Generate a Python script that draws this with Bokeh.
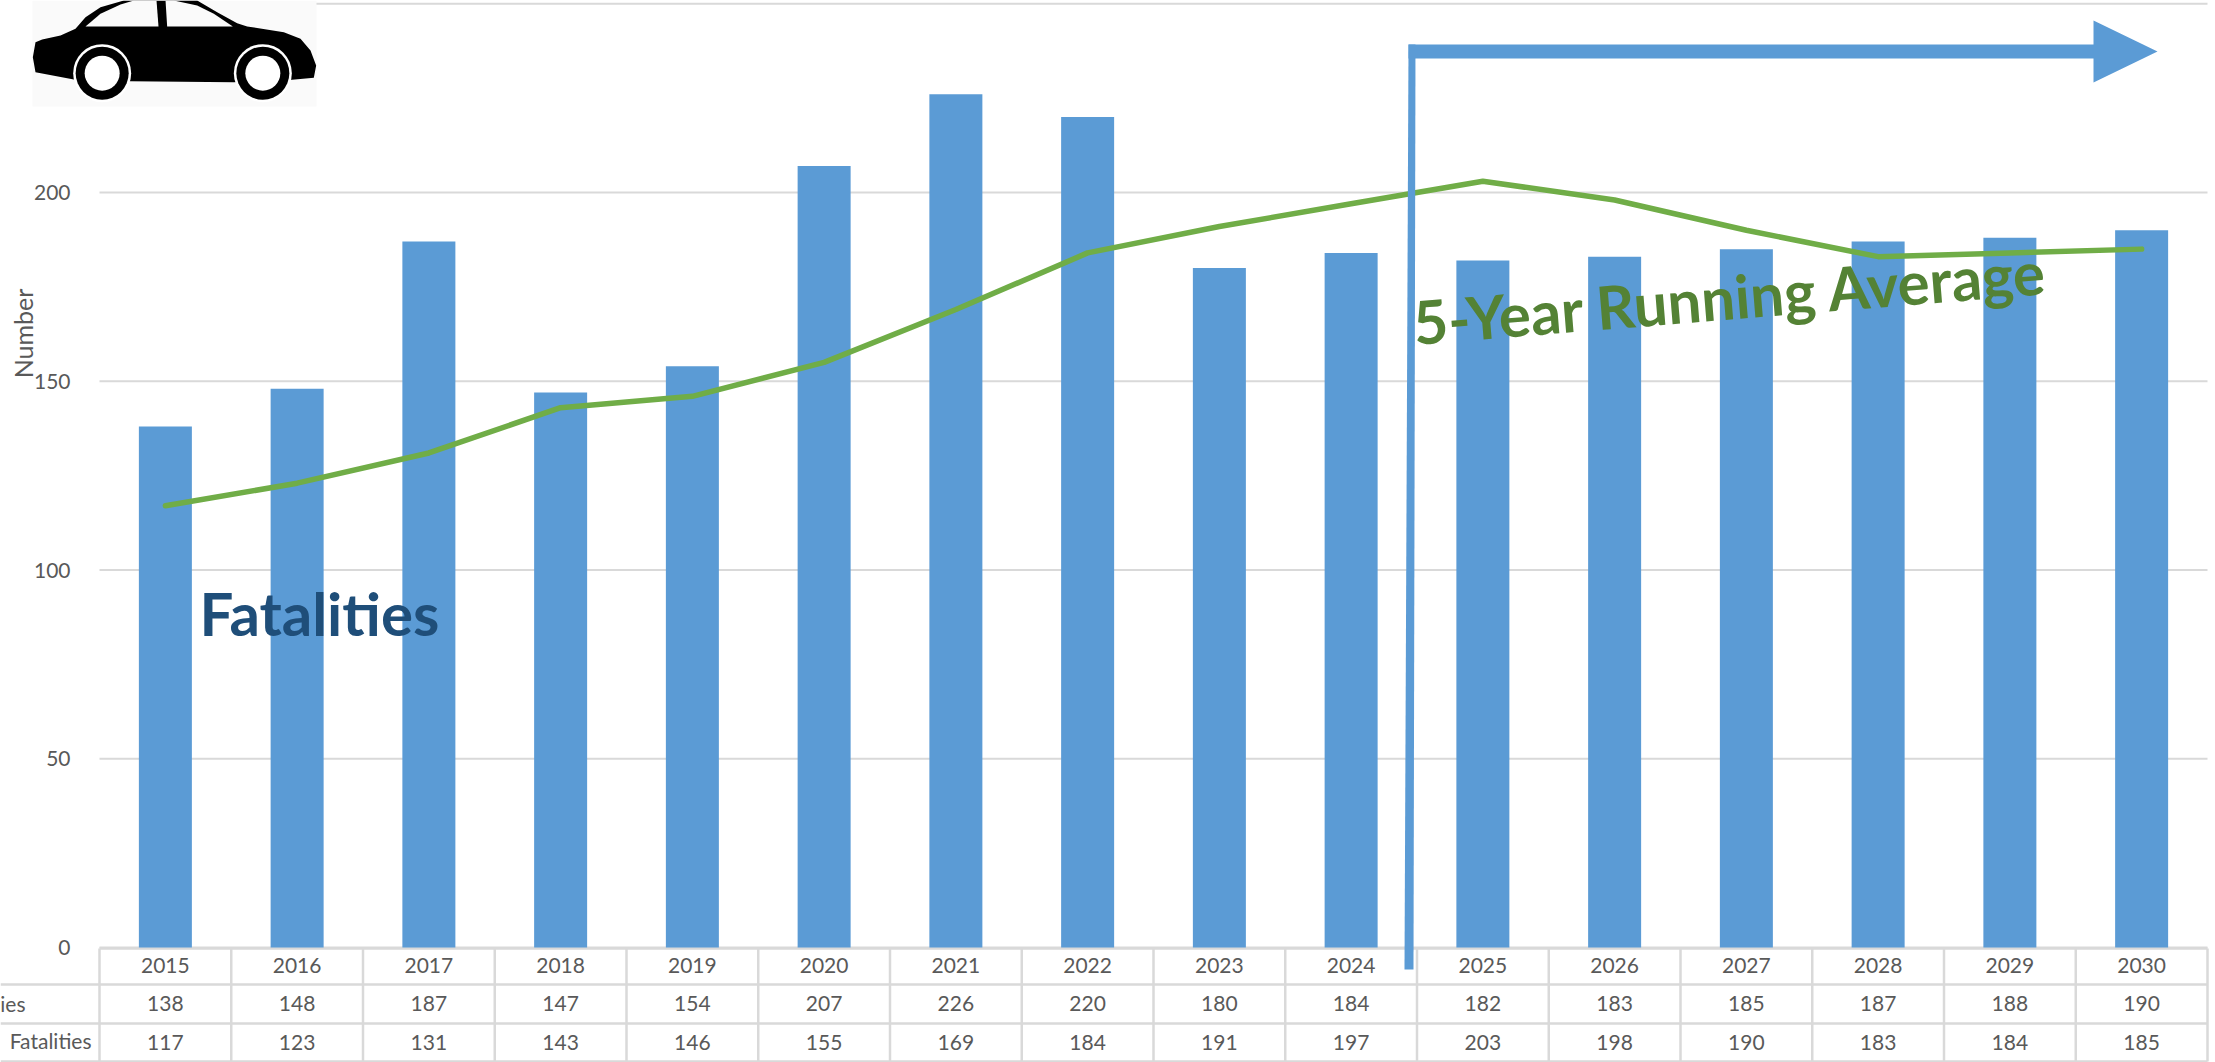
from bokeh.plotting import figure
from bokeh.models import Range1d, FixedTicker, BasicTickFormatter
from bokeh.core.properties import value
from bokeh.embed import file_html
from bokeh.resources import INLINE
import math

years = list(range(2015, 2031))
fatalities = [138, 148, 187, 147, 154, 207, 226, 220, 180, 184, 182, 183, 185, 187, 188, 190]
running_avg = [117, 123, 131, 143, 146, 155, 169, 184, 191, 197, 203, 198, 190, 183, 184, 185]
y_ticks = [0, 50, 100, 150, 200]
grid_values = [0, 50, 100, 150, 200, 250]
row_labels = ["ies", "Fatalities"]

W, H = 2215, 1062
CELL = 131.75
LEFT = 99.0
Y0 = 947.0
PXU = 3.775
FONT = "Lato"
TICK_SIZE = "21px"
GRAY = "#595959"
GRID = "#D9D9D9"
BLUE = "#5B9BD5"
GREEN = "#70AD47"


def X(px):
    return 2015 + (px - (LEFT + CELL / 2)) / CELL


def Y(py):
    return (Y0 - py) / PXU


p = figure(width=W, height=H, output_backend="svg", toolbar_location=None,
           x_range=Range1d(X(0), X(W)), y_range=Range1d(Y(H), Y(0)),
           min_border=0, x_axis_type="linear", y_axis_type="linear")
p.styles = {"position": "absolute", "left": "0px", "top": "0px"}
p.outline_line_color = None
p.grid.visible = False
p.background_fill_color = "white"

# axes, fixed inside the frame
xa = p.xaxis[0]
xa.fixed_location = 0
xa.ticker = FixedTicker(ticks=years)
xa.formatter = BasicTickFormatter(use_scientific=False)
xa.axis_line_color = None
xa.major_tick_line_color = None
xa.minor_tick_line_color = None
xa.major_label_text_font = FONT
xa.major_label_text_font_size = TICK_SIZE
xa.major_label_text_color = GRAY
xa.major_label_standoff = 4

ya = p.yaxis[0]
ya.fixed_location = X(LEFT)
ya.ticker = FixedTicker(ticks=y_ticks)
ya.axis_line_color = None
ya.major_tick_line_color = None
ya.minor_tick_line_color = None
ya.major_label_text_font = FONT
ya.major_label_text_font_size = TICK_SIZE
ya.major_label_text_color = GRAY
ya.major_label_standoff = 23

# gridlines
p.segment(x0=[X(LEFT)] * len(grid_values), x1=[X(LEFT + 16 * CELL)] * len(grid_values), y0=grid_values, y1=grid_values,
          line_color=GRID, line_width=2)

# data table rules
for py, start in [(948, LEFT), (984, 0), (1023, 0), (1061, 0)]:
    p.segment(x0=[X(start)], x1=[X(LEFT + 16 * CELL)], y0=[Y(py)], y1=[Y(py)], line_color=GRID, line_width=2.5)
edges = [X(LEFT + i * CELL) for i in range(17)]
p.segment(x0=edges, x1=edges, y0=[Y(948)] * 17, y1=[Y(1061)] * 17, line_color=GRID, line_width=2.5)

# bars and line
p.vbar(x=years, top=fatalities, bottom=0, width=53 / CELL, fill_color=BLUE, line_color=None)
p.line(x=years, y=running_avg, line_color=GREEN, line_width=5.5, line_join="round", line_cap="round")

# table text
p.text(x=years, y=[Y(1003)] * 16, text=[str(v) for v in fatalities], text_font=value(FONT), text_font_size=TICK_SIZE,
       text_color=GRAY, text_align="center", text_baseline="middle")
p.text(x=years, y=[Y(1042)] * 16, text=[str(v) for v in running_avg], text_font=value(FONT), text_font_size=TICK_SIZE,
       text_color=GRAY, text_align="center", text_baseline="middle")
p.text(x=[X(25)], y=[Y(1003)], text=[row_labels[0]], text_font=value(FONT), text_font_size=TICK_SIZE,
       text_color=GRAY, text_align="right", text_baseline="middle")
p.text(x=[X(91)], y=[Y(1040)], text=[row_labels[1]], text_font=value(FONT), text_font_size=TICK_SIZE,
       text_color=GRAY, text_align="right", text_baseline="middle")
p.text(x=[X(22)], y=[Y(333)], text=["Number"], angle=math.pi / 2, text_font=value(FONT), text_font_size="25px",
       text_color=GRAY, text_align="center", text_baseline="middle")

# annotations
p.text(x=[X(199)], y=[Y(612)], text=["Fatalities"], text_font=value(FONT), text_font_size="60px", text_font_style="bold",
       text_color="#1F4E79", text_align="left", text_baseline="middle")
p.text(x=[X(1730)], y=[Y(296)], text=["5-Year Running Average"], angle=math.radians(4.6), text_font=value(FONT),
       text_font_size="60px", text_font_style="bold", text_color="#548235", text_align="center", text_baseline="middle")

# arrow
p.patch(x=[X(v) for v in (1408, 1415, 1413, 1404)], y=[Y(v) for v in (44, 44, 969, 969)], fill_color=BLUE, line_color=None)
p.patch(x=[X(v) for v in (1408, 2093, 2093, 2157, 2093, 2093, 1408)], y=[Y(v) for v in (44, 44, 20, 51, 82, 58, 58)],
        fill_color=BLUE, line_color=None)

# car pictogram (outline traced in 3x crop pixels)
def cx(v): return [X(a / 3) for a in v]
def cy(v): return [Y(a / 3) for a in v]


p.patch(x=cx((96, 948, 948, 96)), y=cy((0, 0, 318, 318)), fill_color="#FAFAFA", line_color=None)
p.patch(x=cx((97, 105, 125, 180, 225, 255, 300, 370, 590, 650, 710, 740, 850, 900, 930, 947, 940, 875, 700, 390, 220, 105)),
        y=cy((170, 125, 117, 105, 85, 50, 20, 0, 0, 35, 68, 78, 95, 115, 150, 195, 232, 238, 245, 242, 237, 215)),
        fill_color="black", line_color=None)
p.patch(x=cx((255, 300, 360, 400, 468, 474)), y=cy((78, 40, 12, 0, 0, 78)), fill_color="#FAFAFA", line_color=None)
p.patch(x=cx((500, 495, 520, 590, 640, 697)), y=cy((78, 0, 0, 15, 40, 78)), fill_color="#FAFAFA", line_color=None)
wheel_x = cx((305, 787))
wheel_y = cy((218, 218))
p.scatter(x=wheel_x, y=wheel_y, size=58, fill_color="white", line_color=None)
p.scatter(x=wheel_x, y=wheel_y, size=53, fill_color="black", line_color=None)
p.scatter(x=wheel_x, y=wheel_y, size=35, fill_color="white", line_color=None)

open("out.html", "w").write(file_html(p, INLINE))
